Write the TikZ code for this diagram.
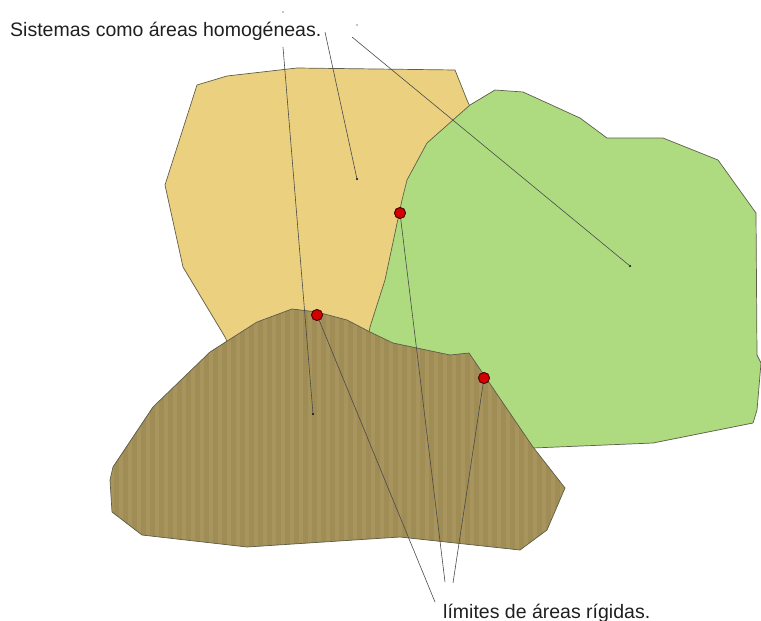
\documentclass[tikz,border=0pt]{standalone}
\usepackage{fontspec}
\setmainfont{Liberation Sans}
\definecolor{sand}{HTML}{EBD07F}
\definecolor{leaf}{HTML}{AEDB80}
\definecolor{mud}{HTML}{A8945D}
\definecolor{mudd}{HTML}{A08C55}
\definecolor{edge}{HTML}{5E5E4A}
\definecolor{lead}{HTML}{4A4A4A}
\definecolor{pin}{HTML}{D40000}
\newcommand\mudpath{(292,309) -- (317,312) -- (347,320) -- (370,332) -- (393,343) -- (450,355) -- (469,353) -- (533,447) -- (565,488) -- (547,530) -- (520,550) -- (400,537) -- (247,547) -- (142,535) -- (112,512) -- (110,480) -- (113,467) -- (153,407) -- (210,352) -- (257,322) -- cycle}
\begin{document}
\begin{tikzpicture}[x=1pt,y=-1pt,
  area/.style={draw=edge, line width=0.7pt, line join=round},
  leader/.style={draw=lead, line width=0.6pt},
  pinpt/.style={circle, fill=pin, draw=black!70!red, line width=0.8pt, minimum size=11pt, inner sep=0pt},
  ctr/.style={circle, fill=black, minimum size=2.2pt, inner sep=0pt},
  speck/.style={circle, fill=black!45, minimum size=1.6pt, inner sep=0pt},
  lbl/.style={font=\fontsize{19.5}{22}\selectfont, text=black!88, inner sep=0pt, anchor=base west}]
\useasboundingbox (0,0) rectangle (761,621);
% yellow area
\path[area, fill=sand] (197,85) -- (227,76) -- (297,68) -- (455,70) -- (467,100) -- (485,140) -- (420,320) -- (380,345) -- (230,348) -- (225,337) -- (183,267) -- (165,185) -- cycle;
% green area
\path[area, fill=leaf] (495,90) -- (523,92) -- (580,118) -- (607,138) -- (663,138) -- (718,160) -- (756,213) -- (757,355) -- (761,363) -- (757,410) -- (753,423) -- (653,443) -- (533,448) -- (450,380) -- (368,338) -- (370,327) -- (385,280) -- (402,200) -- (407,180) -- (427,143) -- (470,105) -- cycle;
% brown striped area
\fill[mud] \mudpath;
\begin{scope}
  \clip \mudpath;
  \foreach \x in {105,114,...,570} \fill[mudd] (\x,300) rectangle ++(4.5,260);
\end{scope}
\draw[area] \mudpath;
% labels
\node[lbl] (sys) at (10,36) {Sistemas como áreas homogéneas.};
\node[lbl] (lim) at (443,618) {límites de áreas rígidas.};
% free ends of leaders
\coordinate (s1) at (283,47);
\coordinate (s2) at (325,32);
\coordinate (s3) at (352,37);
\coordinate (l1) at (435,602);
\coordinate (l2) at (445,582);
\coordinate (l3) at (453,583);
% centre points
\node[ctr] (cy) at (357,179) {};
\node[ctr] (cg) at (630,266) {};
\node[ctr] (cb) at (313,414) {};
\node[speck] (k1) at (283,12) {};
\node[speck] (k2) at (357,25) {};
% red boundary points
\node[pinpt] (p1) at (317,315) {};
\node[pinpt] (p2) at (400,213) {};
\node[pinpt] (p3) at (484,378) {};
% leaders
\draw[leader] (s1) -- (cb.center);
\draw[leader] (s2) -- (cy.center);
\draw[leader] (s3) -- (cg.center);
\draw[leader] (p1.center) -- (l1);
\draw[leader] (p2.center) -- (l2);
\draw[leader] (p3.center) -- (l3);
% redraw pins on top of leaders
\node[pinpt] at (p1) {};
\node[pinpt] at (p2) {};
\node[pinpt] at (p3) {};
\end{tikzpicture}
\end{document}
